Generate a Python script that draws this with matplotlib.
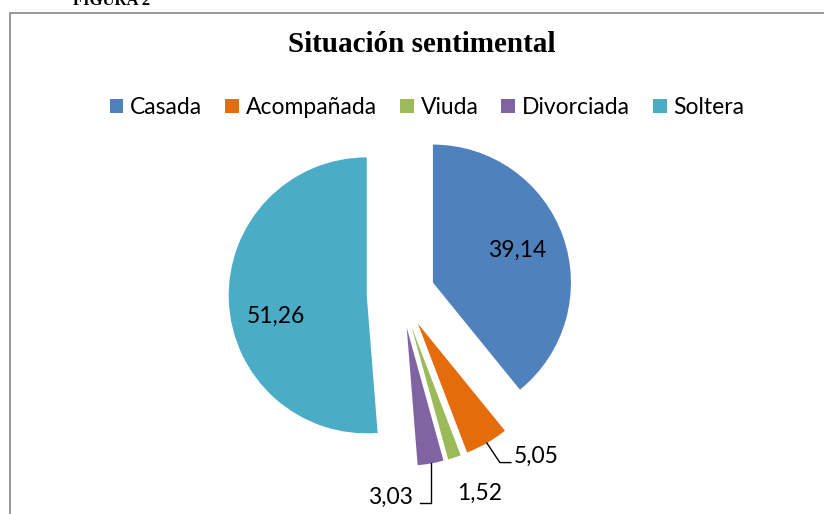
import numpy as np
import matplotlib
matplotlib.use("Agg")
import matplotlib.pyplot as plt
from matplotlib.patches import Patch, Rectangle

# ---- data ----
categories = ["Casada", "Acompañada", "Viuda", "Divorciada", "Soltera"]
values = [39.14, 5.05, 1.52, 3.03, 51.26]
colors = ["#4F81BD", "#E46C0A", "#9BBB59", "#8064A2", "#4BACC6"]
title = "Situación sentimental"
fig_label = "FIGURA 2"

# ---- layout (pixel units, y up) ----
W, H = 824, 514
CX, CY = 400.8, 220.0
R = 138.0
EXPL = 34.1
# label placement: (angle offset from wedge mid in deg, distance from centre in px)
label_polar = [(-1.8, 122.5), (8.6, 216.5), (2.8, 220.7), (-12.8, 209.6), (10.9, 128.7)]
SANS = ["Lato", "DejaVu Sans"]
FS = 16.5

fig = plt.figure(figsize=(W / 100, H / 100), dpi=100)
ax = fig.add_axes([0, 0, 1, 1])

# pie in radius units, centred at origin
ax.pie(values, colors=colors, explode=[EXPL / R] * len(values), radius=1,
       center=(0, 0), startangle=90, counterclock=False,
       wedgeprops=dict(linewidth=0))
ax.set_xlim(-CX / R, (W - CX) / R)
ax.set_ylim(-CY / R, (H - CY) / R)
ax.set_aspect("equal")
ax.axis("off")


def p(x, y):
    """pixel (y up) -> data units"""
    return (x - CX) / R, (y - CY) / R


# wedge angles
tot = sum(values)
cum = np.concatenate([[0], np.cumsum(values)])
theta1 = 90 - 360 * cum[:-1] / tot
theta2 = 90 - 360 * cum[1:] / tot
mids = (theta1 + theta2) / 2

for i, v in enumerate(values):
    off, dist = label_polar[i]
    a = np.deg2rad(mids[i] + off)
    lx, ly = CX + dist * np.cos(a), CY + dist * np.sin(a)
    txt = f"{v:.2f}".replace(".", ",")
    ax.text(*p(lx, ly), txt, ha="center", va="baseline", fontsize=FS,
            family=SANS, color="black")
    m = np.deg2rad(mids[i])
    sx = CX + (EXPL + R) * np.cos(m)
    sy = CY + (EXPL + R) * np.sin(m)
    if categories[i] == "Acompañada":
        ey = ly + 0.6
        pts = [p(sx, sy), p(lx - 36, ey), p(lx - 25, ey)]
        ax.plot([q[0] for q in pts], [q[1] for q in pts], color="black", lw=1.0)
    elif categories[i] == "Divorciada":
        ey = ly
        pts = [p(sx, sy), p(sx, ey), p(lx + 29, ey)]
        ax.plot([q[0] for q in pts], [q[1] for q in pts], color="black", lw=1.0)

# title
fig.text(421.7 / W, (H - 51.7) / H, title, ha="center", va="baseline",
         fontsize=21, fontweight="bold", family="Liberation Serif")
# cut-off figure label (partly above the page, as in the source)
fig.text(73 / W, (H - 5.0) / H, fig_label, ha="left", va="baseline",
         fontsize=12, fontweight="bold", family="Liberation Serif")

# legend
handles = [Patch(facecolor=c, edgecolor="none") for c in colors]
fig.legend(handles, categories, loc="center", ncol=5,
           bbox_to_anchor=(427 / W, (H - 107.5) / H), frameon=False,
           prop=dict(family=SANS, size=FS), handlelength=0.6,
           handleheight=0.55, handletextpad=0.3, columnspacing=1.0,
           borderpad=0, borderaxespad=0)

# chart frame
fig.patches.append(Rectangle((10 / W, -0.05), 1.1, (H - 12.5) / H + 0.05,
                             transform=fig.transFigure, fill=False,
                             edgecolor="#878787", lw=1.2))

fig.savefig("out.png", dpi=100, facecolor="white")
